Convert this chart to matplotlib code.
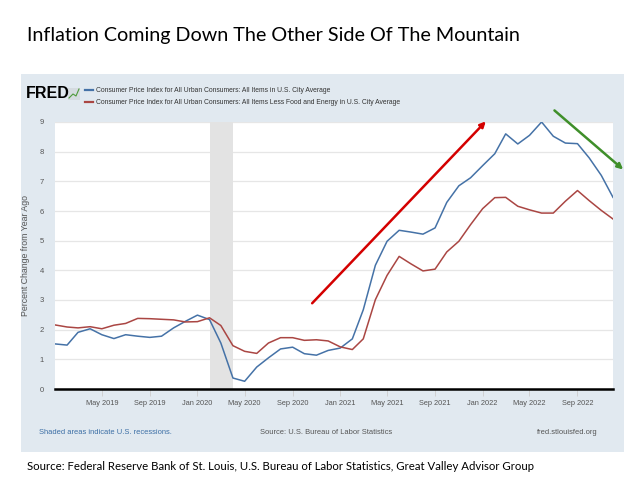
import pandas as pd
import matplotlib.pyplot as plt
import matplotlib.dates as mdates
from matplotlib.patches import Rectangle

# Monthly CPI year-over-year change, Jan 2019 - Dec 2022
months = pd.date_range("2019-01-01", "2022-12-01", freq="MS")
cpi_all = [1.52, 1.48, 1.91, 2.03, 1.83, 1.70, 1.83, 1.78, 1.74, 1.78, 2.06, 2.28,
           2.49, 2.34, 1.55, 0.37, 0.26, 0.74, 1.05, 1.35, 1.41, 1.19, 1.14, 1.30,
           1.38, 1.69, 2.67, 4.17, 4.98, 5.35, 5.29, 5.22, 5.43, 6.29, 6.85, 7.12,
           7.53, 7.93, 8.60, 8.26, 8.55, 9.00, 8.52, 8.29, 8.27, 7.79, 7.20, 6.46]
cpi_core = [2.16, 2.09, 2.06, 2.10, 2.03, 2.15, 2.21, 2.38, 2.37, 2.35, 2.33, 2.26,
            2.27, 2.40, 2.14, 1.46, 1.27, 1.20, 1.55, 1.73, 1.73, 1.64, 1.66, 1.62,
            1.42, 1.33, 1.69, 3.01, 3.83, 4.47, 4.22, 3.98, 4.04, 4.62, 4.98, 5.54,
            6.08, 6.45, 6.46, 6.16, 6.04, 5.93, 5.93, 6.33, 6.69, 6.35, 6.02, 5.73]
recession = ("2020-02-01", "2020-04-01")
tick_dates = pd.date_range("2019-05-01", "2022-09-01", freq="4MS")

label_all = "Consumer Price Index for All Urban Consumers: All Items in U.S. City Average"
label_core = ("Consumer Price Index for All Urban Consumers: All Items Less Food and Energy "
              "in U.S. City Average")

small = ["Liberation Sans", "DejaVu Sans"]
panel_bg = "#e1e9f0"
grey_txt = "#555555"

fig = plt.figure(figsize=(6.4, 4.8), dpi=100)
fig.patch.set_facecolor("white")

# FRED grey-blue panel behind the chart
fig.patches.append(Rectangle((21 / 640, 1 - 452 / 480), 603 / 640, 378 / 480,
                             transform=fig.transFigure, facecolor=panel_bg,
                             edgecolor="none", zorder=-5))

ax = fig.add_axes([55 / 640, 1 - 389 / 480, 558 / 640, 267 / 480])
ax.set_zorder(1)
ax.set_facecolor("white")

ax.axvspan(pd.Timestamp(recession[0]), pd.Timestamp(recession[1]),
           color="#e3e3e3", lw=0, zorder=1)
ax.plot(months, cpi_all, color="#4572a7", lw=1.1, zorder=3)
ax.plot(months, cpi_core, color="#aa4643", lw=1.1, zorder=3)

ax.set_xlim(months[0], months[-1])
ax.set_ylim(0, 9)
ax.set_yticks(range(0, 10))
ax.grid(axis="y", color="#e6e6e6", lw=0.9, zorder=0)
ax.set_axisbelow(True)
ax.set_xticks(tick_dates)
ax.xaxis.set_major_formatter(mdates.DateFormatter("%b %Y"))

for side in ["top", "right", "left"]:
    ax.spines[side].set_visible(False)
ax.spines["bottom"].set_color("black")
ax.spines["bottom"].set_linewidth(1.8)
ax.tick_params(axis="y", length=0, pad=8, labelsize=5.5, labelcolor=grey_txt)
ax.tick_params(axis="x", length=5, width=0.6, color="#cccccc", pad=3,
               labelsize=5.3, labelcolor=grey_txt)
for lab in ax.get_xticklabels() + ax.get_yticklabels():
    lab.set_family(small)

ax.set_ylabel("Percent Change from Year Ago", fontsize=6.3, color=grey_txt,
              labelpad=7, family=small)

# hand-drawn style trend arrows
ax.annotate("", xy=(pd.Timestamp("2022-01-09"), 9.02),
            xytext=(pd.Timestamp("2020-10-21"), 2.89),
            arrowprops=dict(arrowstyle="-|>", color="#d40000", lw=1.8,
                            mutation_scale=8, shrinkA=0, shrinkB=0),
            annotation_clip=False, zorder=5)
ax.annotate("", xy=(pd.Timestamp("2022-12-27"), 7.40),
            xytext=(pd.Timestamp("2022-07-04"), 9.39),
            arrowprops=dict(arrowstyle="-|>", color="#3f8f2a", lw=1.8,
                            mutation_scale=8, shrinkA=0, shrinkB=0),
            annotation_clip=False, zorder=5)

# FRED header and legend
fig.text(26 / 640, 1 - 93.5 / 480, "FRED", fontsize=11.5, fontweight="bold",
         family="Liberation Sans", color="black", va="center", ha="left")
fig.patches.append(Rectangle((68 / 640, 1 - 100 / 480), 12 / 640, 12 / 480,
                             transform=fig.transFigure, facecolor="#d5dbe0",
                             edgecolor="none"))
fig.lines.append(plt.Line2D([69 / 640, 73 / 640, 76 / 640, 79 / 640],
                            [1 - 98 / 480, 1 - 94 / 480, 1 - 96 / 480, 1 - 89 / 480],
                            transform=fig.transFigure, color="#4e9a3a", lw=0.8))
for y, col, lab in [(90, "#4572a7", label_all), (102, "#aa4643", label_core)]:
    fig.lines.append(plt.Line2D([85 / 640, 93 / 640], [1 - y / 480, 1 - y / 480],
                                transform=fig.transFigure, color=col, lw=1.6))
    fig.text(96 / 640, 1 - y / 480, lab, fontsize=4.9, family=small,
             color="#333333", va="center", ha="left")

# footer inside panel
fig.text(39 / 640, 1 - 432 / 480, "Shaded areas indicate U.S. recessions.",
         fontsize=5.4, family=small, color="#3b6ea5", va="center", ha="left")
fig.text(326 / 640, 1 - 432 / 480, "Source: U.S. Bureau of Labor Statistics",
         fontsize=5.4, family=small, color=grey_txt, va="center", ha="center")
fig.text(598 / 640, 1 - 432 / 480, "fred.stlouisfed.org",
         fontsize=5.4, family=small, color=grey_txt, va="center", ha="right")

# slide title and source line
fig.text(27 / 640, 1 - 36 / 480, "Inflation Coming Down The Other Side Of The Mountain",
         fontsize=14.2, family="Lato", color="black", va="center", ha="left")
fig.text(27 / 640, 1 - 467 / 480,
         "Source: Federal Reserve Bank of St. Louis, U.S. Bureau of Labor Statistics, "
         "Great Valley Advisor Group",
         fontsize=8.2, family="Lato", color="black", va="center", ha="left")

fig.savefig("out.png", dpi=100)
